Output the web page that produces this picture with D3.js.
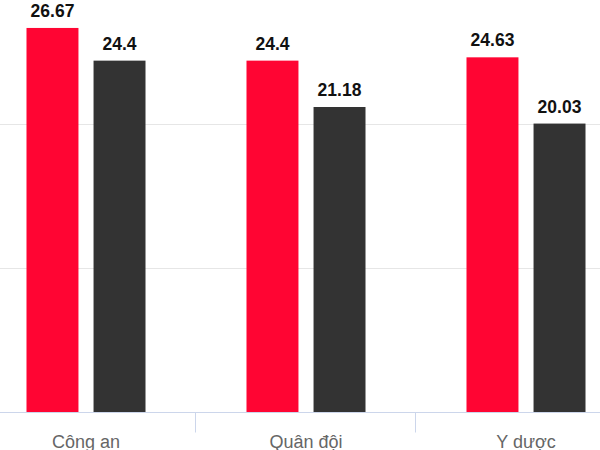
<!DOCTYPE html>
<html>
<head>
<meta charset="utf-8">
<script src="https://cdn.jsdelivr.net/npm/d3@7"></script>
<style>
  body { margin: 0; background: #fff; }
  svg { display: block; font-family: "Liberation Sans", Arial, sans-serif; }
</style>
</head>
<body>
<script>
// data
var categories = ['Công an', 'Quân đội', 'Y dược'];
var seriesNames = ['s1', 's2'];
var redValues = [26.67, 24.4, 24.63];
var darkValues = [24.4, 21.18, 20.03];
var gridTicks = [10, 20, 30];

var colors = { s1: '#ff0533', s2: '#333333' };

var width = 600;
var height = 450;
var baseline = 412;

var svg = d3.select('body').append('svg')
    .attr('width', width)
    .attr('height', height);

// plot is wider than the window, it is cropped at both sides
var x0 = d3.scaleBand().domain(categories).range([-24, 636]).paddingInner(0).paddingOuter(0);
var x1 = d3.scaleBand().domain(seriesNames)
    .range([50.5, 169.5]).paddingInner(0.225).paddingOuter(0);
var y = d3.scaleLinear().domain([0, 30]).range([baseline, baseline - 30 * 14.4]);

// grid lines
svg.append('g').selectAll('line')
    .data(gridTicks)
    .enter().append('line')
    .attr('x1', 0)
    .attr('x2', width)
    .attr('y1', function(d){ return Math.round(y(d)) + 0.5; })
    .attr('y2', function(d){ return Math.round(y(d)) + 0.5; })
    .attr('stroke', '#e6e6e6')
    .attr('stroke-width', 1);

var rows = categories.map(function(c, i){
    return { cat: c, values: [
        { key: 's1', v: redValues[i] },
        { key: 's2', v: darkValues[i] }
    ]};
});

var groups = svg.append('g').selectAll('g')
    .data(rows)
    .enter().append('g')
    .attr('transform', function(d){ return 'translate(' + x0(d.cat) + ',0)'; });

groups.selectAll('rect')
    .data(function(d){ return d.values; })
    .enter().append('rect')
    .attr('x', function(d){ return x1(d.key); })
    .attr('width', x1.bandwidth())
    .attr('y', function(d){ return y(d.v); })
    .attr('height', function(d){ return baseline - y(d.v); })
    .attr('fill', function(d){ return colors[d.key]; });

groups.selectAll('text')
    .data(function(d){ return d.values; })
    .enter().append('text')
    .attr('x', function(d){ return x1(d.key) + x1.bandwidth() / 2; })
    .attr('y', function(d){ return y(d.v) - 11; })
    .attr('text-anchor', 'middle')
    .attr('fill', '#111')
    .style('font-size', '17.5px')
    .style('font-weight', 'bold')
    .text(function(d){ return d.v; });

// x axis
var xAxis = svg.append('g').attr('transform', 'translate(0,' + (baseline + 0.5) + ')');
xAxis.append('line')
    .attr('x1', 0).attr('x2', width)
    .attr('stroke', '#ccd6eb');

xAxis.selectAll('line.tick')
    .data(categories.slice(1))
    .enter().append('line')
    .attr('class', 'tick')
    .attr('x1', function(d){ return Math.round(x0(d)) - 0.5; })
    .attr('x2', function(d){ return Math.round(x0(d)) - 0.5; })
    .attr('y1', 0).attr('y2', 20)
    .attr('stroke', '#ccd6eb');

xAxis.selectAll('text')
    .data(categories)
    .enter().append('text')
    .attr('x', function(d){ return x0(d) + x0.bandwidth() / 2; })
    .attr('y', 35)
    .attr('text-anchor', 'middle')
    .attr('fill', '#666666')
    .style('font-size', '18px')
    .text(function(d){ return d; });
</script>
</body>
</html>
